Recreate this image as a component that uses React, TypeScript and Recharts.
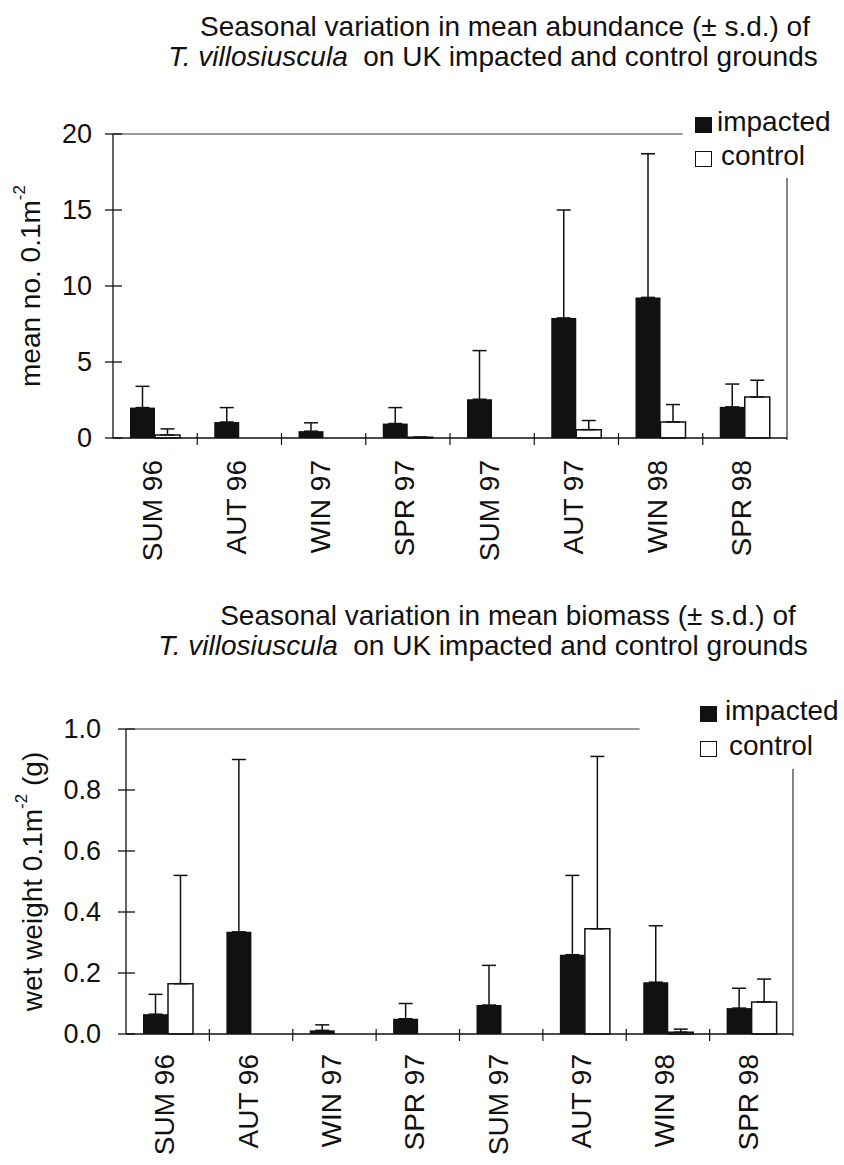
import React from 'react';
import { BarChart, Bar, XAxis, YAxis, ErrorBar, ReferenceLine, Legend } from 'recharts';

const FONT = '"Liberation Sans", Arial, Helvetica, sans-serif';

const seasons = ['SUM 96', 'AUT 96', 'WIN 97', 'SPR 97', 'SUM 97', 'AUT 97', 'WIN 98', 'SPR 98'];

// abundance, mean no. 0.1m-2 (upper s.d. only drawn)
const abundImpacted = [2.0, 1.05, 0.45, 0.95, 2.55, 7.9, 9.25, 2.05];
const abundImpactedSd = [1.4, 0.95, 0.55, 1.05, 3.2, 7.1, 9.45, 1.5];
const abundControl = [0.2, 0, 0, 0.05, 0, 0.55, 1.05, 2.7];
const abundControlSd = [0.4, 0, 0, 0, 0, 0.6, 1.15, 1.1];
const abundTicks = [0, 5, 10, 15, 20];

// biomass, wet weight 0.1m-2 (g)
const bioImpacted = [0.065, 0.335, 0.012, 0.05, 0.095, 0.26, 0.17, 0.085];
const bioImpactedSd = [0.065, 0.565, 0.018, 0.05, 0.13, 0.26, 0.185, 0.065];
const bioControl = [0.165, 0, 0, 0, 0, 0.345, 0.006, 0.105];
const bioControlSd = [0.355, 0, 0, 0, 0, 0.565, 0.01, 0.075];
const bioTicks = [0, 0.2, 0.4, 0.6, 0.8, 1.0];

const buildRows = (imp: number[], impSd: number[], ctl: number[], ctlSd: number[]) =>
  seasons.map((s, i) => ({
    season: s,
    impacted: imp[i],
    control: ctl[i],
    impErr: [0, impSd[i]],
    ctlErr: [0, ctlSd[i]],
  }));

const abundRows = buildRows(abundImpacted, abundImpactedSd, abundControl, abundControlSd);
const bioRows = buildRows(bioImpacted, bioImpactedSd, bioControl, bioControlSd);

const Title = ({ top, center, children }: any) => (
  <div
    style={{
      position: 'absolute',
      top,
      left: center - 422,
      width: 844,
      textAlign: 'center',
      fontFamily: FONT,
      fontSize: 28,
      lineHeight: '30px',
      whiteSpace: 'pre',
      color: '#111',
    }}
  >
    {children}
  </div>
);

const makeYTick = (gap: number, fmt: (v: number) => string) => (props: any) => {
  const { x, y, payload } = props;
  return (
    <g>
      <line x1={x - 8} x2={x + 9} y1={y} y2={y} stroke="#111" strokeWidth={1.3} />
      <text x={x - gap} y={y} textAnchor="end" dominantBaseline="central" fontSize={27} fontFamily={FONT} fill="#111">
        {fmt(payload.value)}
      </text>
    </g>
  );
};

const makeXTick = (band: number, drop: number) => (props: any) => {
  const { x, y, payload, index } = props;
  const half = payload && payload.offset > 0 ? payload.offset : band / 2;
  return (
    <g>
      {index < seasons.length - 1 && (
        <line x1={x + half} x2={x + half} y1={y - 5} y2={y + 7} stroke="#111" strokeWidth={1.2} />
      )}
      <text
        transform={`translate(${x - 3},${y + drop}) rotate(-90)`}
        textAnchor="end"
        dominantBaseline="central"
        fontSize={28}
        fontFamily={FONT}
        fill="#111"
      >
        {payload.value}
      </text>
    </g>
  );
};

// top frame line, cut short before the legend
const topLine = (frac: number) => (props: any) => {
  const { x1, x2, y1 } = props;
  return <line x1={x1} y1={y1} x2={x1 + (x2 - x1) * frac} y2={y1} stroke="#333" strokeWidth={1.2} />;
};

// right frame line, only the lower part
const rightLine = (frac: number) => (props: any) => {
  const { x1, y1, y2 } = props;
  const bottom = Math.max(y1, y2);
  const top = Math.min(y1, y2);
  return <line x1={x1} y1={bottom + 2} x2={x1} y2={bottom - (bottom - top) * frac} stroke="#333" strokeWidth={1.2} />;
};

const LegendBox = ({ textLeft, row2 }: { textLeft: number; row2: number }) => (
  <div style={{ position: 'relative', width: 150, height: 72, fontFamily: FONT, fontSize: 28, color: '#111' }}>
    <div style={{ position: 'absolute', left: 0, top: 12, width: 17, height: 16, background: '#111' }} />
    <div style={{ position: 'absolute', left: textLeft, top: 0, lineHeight: '34px' }}>impacted</div>
    <div
      style={{
        position: 'absolute',
        left: 0,
        top: row2 + 12,
        width: 15,
        height: 14,
        background: '#fff',
        border: '1.5px solid #111',
      }}
    />
    <div style={{ position: 'absolute', left: textLeft + 4, top: row2, lineHeight: '34px' }}>control</div>
  </div>
);

const YLabel = (text: string, tail: string, dx: number) => (props: any) => {
  const vb = props.viewBox || {};
  const cx = vb.x + (vb.width || 0) - dx;
  const cy = vb.y + vb.height / 2;
  return (
    <text
      transform={`translate(${cx},${cy}) rotate(-90)`}
      textAnchor="middle"
      dominantBaseline="central"
      fontSize={28}
      fontFamily={FONT}
      fill="#111"
    >
      {text}
      <tspan fontSize={17} dy={-11}>-2</tspan>
      {tail && <tspan dy={11}>{tail}</tspan>}
    </text>
  );
};

type PanelProps = {
  rows: any[];
  top: number;
  height: number;
  margin: { top: number; left: number; right: number; bottom: number };
  yMax: number;
  ticks: number[];
  fmt: (v: number) => string;
  tickGap: number;
  topLineFrac: number;
  rightLineFrac: number;
  label: string;
  labelTail: string;
  labelDx: number;
  drop: number;
  legendLeft: number;
  legendTop: number;
  legendTextLeft: number;
  legendRow2: number;
};

const AXIS_W = 1;

const Panel = (p: PanelProps) => {
  const width = 844;
  const band = (width - p.margin.left - p.margin.right - AXIS_W) / seasons.length;
  return (
    <div style={{ position: 'absolute', left: 0, top: p.top }}>
      <BarChart width={width} height={p.height} data={p.rows} margin={p.margin} barSize={25} barGap={0}>
        <XAxis
          dataKey="season"
          height={AXIS_W}
          tickSize={0}
          tickMargin={0}
          interval={0}
          axisLine={{ stroke: '#111', strokeWidth: 1.3 }}
          tickLine={false}
          tick={makeXTick(band, p.drop)}
        />
        <YAxis
          width={AXIS_W}
          domain={[0, p.yMax]}
          ticks={p.ticks}
          interval={0}
          tickSize={0}
          tickMargin={0}
          axisLine={{ stroke: '#111', strokeWidth: 1.3 }}
          tickLine={false}
          tick={makeYTick(p.tickGap, p.fmt)}
          label={{ content: YLabel(p.label, p.labelTail, p.labelDx) }}
        />
        <ReferenceLine y={p.yMax} shape={topLine(p.topLineFrac)} />
        <ReferenceLine x={seasons[seasons.length - 1]} position="end" shape={rightLine(p.rightLineFrac)} />
        <Legend
          layout="vertical"
          align="center"
          verticalAlign="middle"
          wrapperStyle={{ left: p.legendLeft, top: p.legendTop, width: 150 }}
          content={() => <LegendBox textLeft={p.legendTextLeft} row2={p.legendRow2} />}
        />
        <Bar dataKey="impacted" name="impacted" fill="#111" isAnimationActive={false}>
          <ErrorBar dataKey="impErr" width={7} stroke="#111" strokeWidth={1.5} direction="y" />
        </Bar>
        <Bar dataKey="control" name="control" fill="#fff" stroke="#111" strokeWidth={1.5} isAnimationActive={false}>
          <ErrorBar dataKey="ctlErr" width={7} stroke="#111" strokeWidth={1.5} direction="y" />
        </Bar>
      </BarChart>
    </div>
  );
};

export default function App() {
  return (
    <div style={{ position: 'absolute', left: 0, top: 0, width: 844, height: 1165, background: '#fff', overflow: 'hidden' }}>
      <Title top={12} center={505}>Seasonal variation in mean abundance (± s.d.) of</Title>
      <Title top={42} center={493}>
        <i>T. villosiuscula</i>  on UK impacted and control grounds
      </Title>
      <Panel
        rows={abundRows}
        top={0}
        height={600}
        margin={{ top: 134, left: 112, right: 57, bottom: 161 }}
        yMax={20}
        ticks={abundTicks}
        fmt={(v) => String(v)}
        tickGap={21}
        topLineFrac={0.845}
        rightLineFrac={0.855}
        label="mean no. 0.1m"
        labelTail=""
        labelDx={83}
        drop={22}
        legendLeft={695}
        legendTop={105}
        legendTextLeft={22}
        legendRow2={34}
      />
      <Title top={601} center={508}>Seasonal variation in mean biomass (± s.d.) of</Title>
      <Title top={631} center={483}>
        <i>T. villosiuscula</i>  on UK impacted and control grounds
      </Title>
      <Panel
        rows={bioRows}
        top={600}
        height={565}
        margin={{ top: 129, left: 125, right: 51, bottom: 130 }}
        yMax={1}
        ticks={bioTicks}
        fmt={(v) => v.toFixed(1)}
        tickGap={25}
        topLineFrac={0.77}
        rightLineFrac={0.87}
        label="wet weight 0.1m"
        labelTail=" (g)"
        labelDx={94}
        drop={20}
        legendLeft={700}
        legendTop={94}
        legendTextLeft={25}
        legendRow2={35}
      />
    </div>
  );
}
